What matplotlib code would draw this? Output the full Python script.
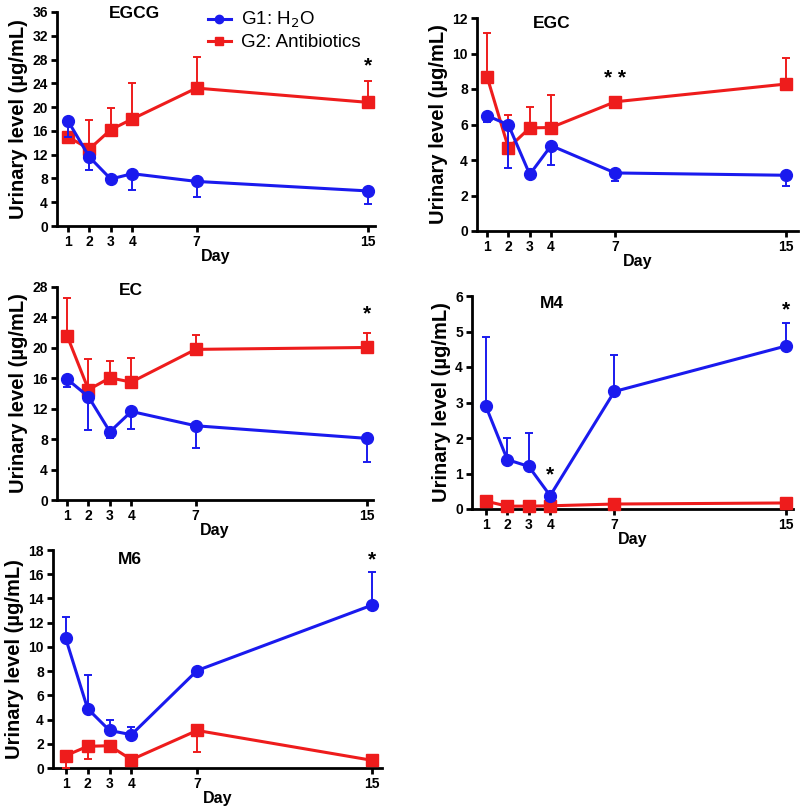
import matplotlib
matplotlib.use("Agg")
import matplotlib.pyplot as plt
from matplotlib.lines import Line2D
import numpy as np

plt.rcParams['font.family'] = ['Liberation Sans', 'DejaVu Sans']

days = [1, 2, 3, 4, 7, 15]
day_labels = ['1', '2', '3', '4', '7', '15']

# EGCG
egcg_g1 = [17.7, 11.6, 7.9, 8.8, 7.5, 5.9]
egcg_g1_lo = [2.7, 2.2, 0.6, 2.7, 2.6, 2.2]
egcg_g1_hi = [0, 0, 0, 0, 0, 0]
egcg_g2 = [15.0, 12.95, 16.2, 18.0, 23.2, 20.8]
egcg_g2_lo = [0, 0, 0, 0, 0, 0]
egcg_g2_hi = [0.5, 4.8, 3.7, 6.0, 5.2, 3.6]
egcg_yticks = [0, 4, 8, 12, 16, 20, 24, 28, 32, 36]

# EGC
egc_g1 = [6.5, 5.98, 3.19, 4.81, 3.27, 3.14]
egc_g1_lo = [0.35, 2.42, 0.0, 1.08, 0.47, 0.58]
egc_g1_hi = [0, 0, 0, 0, 0, 0]
egc_g2 = [8.7, 4.68, 5.81, 5.83, 7.28, 8.28]
egc_g2_lo = [0, 0, 0, 0, 0, 0]
egc_g2_hi = [2.47, 1.86, 1.16, 1.83, 0.0, 1.46]
egc_yticks = [0, 2, 4, 6, 8, 10, 12]

# EC
ec_g1 = [15.9, 13.57, 8.97, 11.64, 9.76, 8.1]
ec_g1_lo = [1.1, 4.38, 0.77, 2.36, 2.98, 3.11]
ec_g1_hi = [0, 0, 0, 0, 0, 0]
ec_g2 = [21.6, 14.5, 16.06, 15.5, 19.8, 20.05]
ec_g2_lo = [0, 0, 0, 0, 0, 0]
ec_g2_hi = [4.9, 4.0, 2.24, 3.2, 1.9, 1.95]
ec_yticks = [0, 4, 8, 12, 16, 20, 24, 28]

# M4
m4_g1 = [2.89, 1.39, 1.2, 0.375, 3.31, 4.59]
m4_g1_lo = [0, 0, 0, 0, 0, 0]
m4_g1_hi = [1.95, 0.61, 0.94, 0.0, 1.03, 0.64]
m4_g2 = [0.22, 0.08, 0.08, 0.09, 0.14, 0.17]
m4_g2_lo = [0, 0, 0, 0, 0, 0]
m4_g2_hi = [0, 0, 0, 0, 0, 0]
m4_yticks = [0, 1, 2, 3, 4, 5, 6]

# M6
m6_g1 = [10.7, 4.9, 3.1, 2.75, 8.05, 13.46]
m6_g1_lo = [0, 0, 0, 0, 0, 0]
m6_g1_hi = [1.75, 2.74, 0.88, 0.63, 0.0, 2.69]
m6_g2 = [1.02, 1.79, 1.84, 0.69, 3.1, 0.63]
m6_g2_lo = [1.02, 1.02, 0, 0, 1.78, 0]
m6_g2_hi = [0, 0, 0, 0, 0, 0]
m6_yticks = [0, 2, 4, 6, 8, 10, 12, 14, 16, 18]

# significance marks: (day, y, text)
egcg_marks = [(15, 27.0, '*')]
egc_marks = [(7, 8.6, '* *')]
ec_marks = [(15, 24.4, '*')]
m4_marks = [(4, 0.95, '*'), (15, 5.6, '*')]
m6_marks = [(15, 17.2, '*')]

BLUE = '#1a1aee'
RED = '#ee1c1c'

W, H = 800, 806
fig = plt.figure(figsize=(W / 100, H / 100), dpi=100)


def px_axes(l, r, b, t):
    return fig.add_axes([l / W, 1 - b / H, (r - l) / W, (b - t) / H])


panels = [
    ('EGCG', (57, 375, 226, 12), (0.49, 15.33), egcg_g1, egcg_g1_lo, egcg_g1_hi,
     egcg_g2, egcg_g2_lo, egcg_g2_hi, egcg_yticks, egcg_marks, 0.245, 0.995),
    ('EGC', (477, 798, 231, 18), (0.53, 15.56), egc_g1, egc_g1_lo, egc_g1_hi,
     egc_g2, egc_g2_lo, egc_g2_hi, egc_yticks, egc_marks, 0.234, 0.975),
    ('EC', (57, 373, 500, 287), (0.53, 15.28), ec_g1, ec_g1_lo, ec_g1_hi,
     ec_g2, ec_g2_lo, ec_g2_hi, ec_yticks, ec_marks, 0.233, 0.985),
    ('M4', (472, 793, 509, 296), (0.35, 15.34), m4_g1, m4_g1_lo, m4_g1_hi,
     m4_g2, m4_g2_lo, m4_g2_hi, m4_yticks, m4_marks, 0.25, 0.965),
    ('M6', (53, 382, 768, 550), (0.42, 15.44), m6_g1, m6_g1_lo, m6_g1_hi,
     m6_g2, m6_g2_lo, m6_g2_hi, m6_yticks, m6_marks, 0.234, 0.955),
]

for (name, box, xlim, g1, g1lo, g1hi, g2, g2lo, g2hi, yticks, marks, tx, ty) in panels:
    ax = px_axes(*box)
    ax.errorbar(days, g2, yerr=[g2lo, g2hi], color=RED, marker='s', ms=8.5,
                lw=2.2, elinewidth=1.4, capsize=3.2, capthick=1.4, zorder=3,
                clip_on=False)
    ax.errorbar(days, g1, yerr=[g1lo, g1hi], color=BLUE, marker='o', ms=8.5,
                lw=2.2, elinewidth=1.4, capsize=3.2, capthick=1.4, zorder=4,
                clip_on=False)
    ax.set_xlim(*xlim)
    ax.set_ylim(yticks[0], yticks[-1])
    ax.set_xticks(days)
    ax.set_xticklabels(day_labels)
    ax.set_yticks(yticks)
    ax.set_yticklabels([str(v) for v in yticks])
    for s in ['top', 'right']:
        ax.spines[s].set_visible(False)
    for s in ['left', 'bottom']:
        ax.spines[s].set_linewidth(2.0)
    ax.tick_params(axis='both', direction='out', length=4.5, width=2.0,
                   labelsize=10, pad=2)
    for lab in ax.get_xticklabels() + ax.get_yticklabels():
        lab.set_fontweight('bold')
    ax.set_xlabel('Day', fontsize=11.5, fontweight='bold', labelpad=0)
    ax.set_ylabel('Urinary level (µg/mL)', fontsize=14.5, fontweight='bold',
                  labelpad=3)
    ax.text(tx, ty, name, transform=ax.transAxes, fontsize=12.5,
            fontweight='bold', ha='center', va='center')
    for (d, y, t) in marks:
        ax.text(d, y, t, fontsize=15, fontweight='bold', ha='center',
                va='center')

handles = [
    Line2D([0], [0], color=BLUE, marker='o', ms=6, lw=2.2),
    Line2D([0], [0], color=RED, marker='s', ms=6, lw=2.2),
]
fig.legend(handles, ['G1: H$_2$O', 'G2: Antibiotics'], loc='upper left',
           bbox_to_anchor=(195 / W, 1 + 3 / H), frameon=False, fontsize=13.5,
           handlelength=1.2, handletextpad=0.55, labelspacing=0.2,
           borderpad=0.2)

fig.savefig('out.png', dpi=100)
